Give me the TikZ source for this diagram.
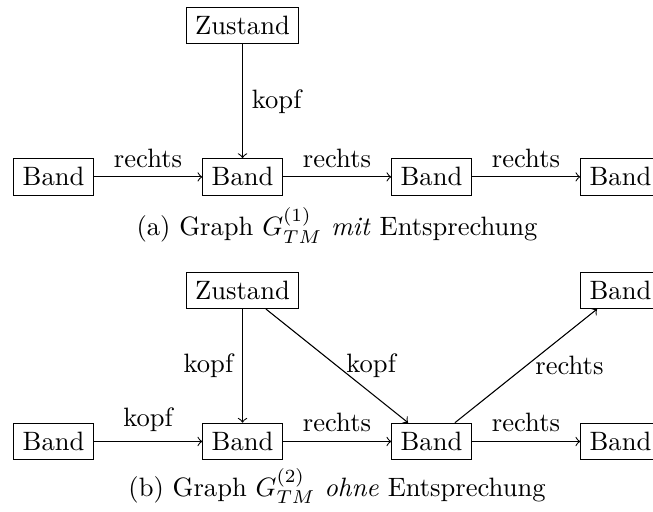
\documentclass[tikz,border=0pt]{standalone}
\usetikzlibrary{positioning}
\tikzset{
  obj/.style={draw, rectangle, inner sep=0.3333em},
  rel/.style={->}
}
\begin{document}
\begin{tikzpicture}
  % page frame, also trims the rightmost boxes
  \clip (-0.708,-4.42) rectangle (7.93,2.34);

  % (a) graph with correspondence
  \node[obj] (za) at (2.5,2) {Zustand};
  \node[obj] (a1) at (0,0) {Band};
  \node[obj] (a2) at (2.5,0) {Band};
  \node[obj] (a3) at (5,0) {Band};
  \node[obj] (a4) at (7.5,0) {Band};
  \draw[rel] (za) -- node[right] {kopf} (a2);
  \draw[rel] (a1) -- node[above] {rechts} (a2);
  \draw[rel] (a2) -- node[above] {rechts} (a3);
  \draw[rel] (a3) -- node[above] {rechts} (a4);
  \node (capa) at (3.75,-0.64) {(a) Graph $G_{TM}^{(1)}$ \textit{mit} Entsprechung};

  % (b) graph without correspondence
  \node[obj] (zb) at (2.5,-1.5) {Zustand};
  \node[obj] (bt) at (7.5,-1.5) {Band};
  \node[obj] (b1) at (0,-3.5) {Band};
  \node[obj] (b2) at (2.5,-3.5) {Band};
  \node[obj] (b3) at (5,-3.5) {Band};
  \node[obj] (b4) at (7.5,-3.5) {Band};
  \draw[rel] (zb) -- node[left] {kopf} (b2);
  \draw[rel] (zb) -- node[right] {kopf} (b3);
  \draw[rel] (b1) -- node[above] {kopf} (b2);
  \draw[rel] (b2) -- node[above] {rechts} (b3);
  \draw[rel] (b3) -- node[above] {rechts} (b4);
  \draw[rel] (b3) -- node[right] {rechts} (bt);
  \node (capb) at (3.75,-4.09) {(b) Graph $G_{TM}^{(2)}$ \textit{ohne} Entsprechung};
\end{tikzpicture}
\end{document}
